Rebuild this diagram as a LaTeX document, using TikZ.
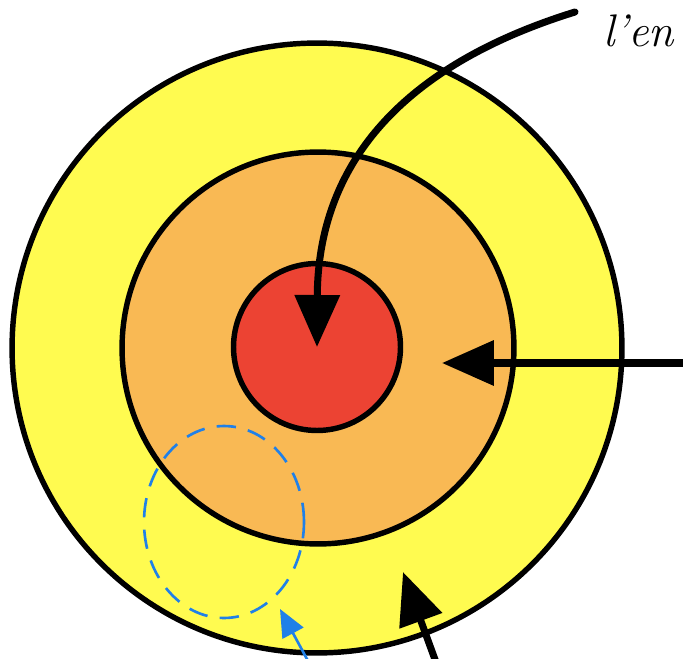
\documentclass[tikz,border=0pt]{standalone}
\usetikzlibrary{arrows.meta}
\definecolor{EarthCrust}{HTML}{FFFB50}
\definecolor{EarthMantle}{HTML}{F9B954}
\definecolor{EarthCore}{HTML}{EC4333}
\definecolor{EarthBlue}{HTML}{2080E8}

\begin{document}
\begin{tikzpicture}[x=0.02cm,y=-0.02cm,
    layer/.style={circle,draw,line width=3.1pt,inner sep=0pt},
    pointer/.style={line width=4pt,line cap=round,-{Triangle[length=1.04cm,width=0.88cm]}}]
  \useasboundingbox (0,0) rectangle (683,659);

  % the three layers
  \node[layer,fill=EarthCrust,minimum size=12.2cm] (crust) at (317,348) {};
  \node[layer,fill=EarthMantle,minimum size=7.84cm] (mantle) at (318,348) {};
  \node[layer,fill=EarthCore,minimum size=3.34cm] (core) at (317,347) {};

  % dashed zone and its pointer
  \draw[EarthBlue,line width=1.5pt,dash pattern=on 11pt off 7pt]
    (224,522) ellipse [x radius=1.6cm,y radius=1.92cm];
  \coordinate (zonefoot) at (308,661);
  \coordinate (zonetip) at (280,609);
  \draw[EarthBlue,line width=1.5pt,-{Triangle[length=0.55cm,width=0.47cm]}]
    (zonefoot) -- (zonetip);

  % label and arrows
  \node[anchor=base west,font=\itshape\fontsize{26}{30}\selectfont] (envelope) at (597,46) {l'en};
  \coordinate (envstart) at (575,12);
  \draw[pointer] (envstart) .. controls (420,60) and (318,150) .. (core.center);

  \coordinate (mantlefoot) at (690,363);
  \coordinate (mantletip) at (442,363);
  \draw[pointer] (mantlefoot) -- (mantletip);

  \coordinate (crustfoot) at (437,665);
  \coordinate (crusttip) at (403,572);
  \draw[pointer] (crustfoot) -- (crusttip);
\end{tikzpicture}
\end{document}
